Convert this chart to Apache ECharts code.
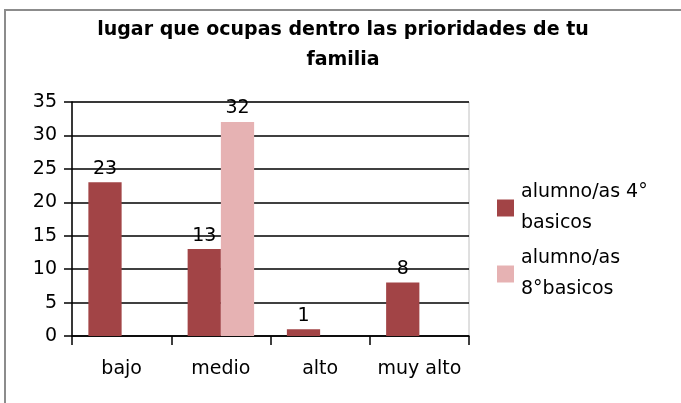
<!DOCTYPE html>
<html><head><meta charset="utf-8">
<script src="https://cdn.jsdelivr.net/npm/echarts@6/dist/echarts.min.js"></script>
<style>html,body{margin:0;padding:0;background:#fff}#c{width:681px;height:403px}</style>
</head><body><div id="c"></div>
<script>
const categories = ['bajo', 'medio', 'alto', 'muy alto'];
const series4 = [23, 13, 1, 8];
const series8 = [null, 32, null, null];
const seriesNames = ['alumno/as 4°\nbasicos', 'alumno/as\n8°basicos'];
const titleText = 'lugar que ocupas dentro las prioridades de tu\nfamilia';

const FONT = 'DejaVu Sans';
const chart = echarts.init(document.getElementById('c'), null, {renderer: 'canvas'});
chart.setOption({
  animation: false,
  backgroundColor: '#fff',
  textStyle: {fontFamily: FONT},
  title: {
    text: titleText, left: 343, top: 15, textAlign: 'center', padding: 0,
    textStyle: {fontFamily: FONT, fontSize: 19, fontWeight: 'bold', color: '#000', lineHeight: 30}
  },
  graphic: [{
    type: 'rect', shape: {x: 5, y: 10, width: 700, height: 420},
    style: {fill: 'none', stroke: '#8c8c8c', lineWidth: 2}, silent: true, z: 100
  }],
  legend: {
    orient: 'vertical', left: 497, top: 177, itemGap: 4, padding: 0,
    itemWidth: 17, itemHeight: 17, icon: 'rect',
    textStyle: {fontFamily: FONT, fontSize: 19, color: '#000', lineHeight: 31, padding: [0, 0, 0, 2]},
    data: seriesNames
  },
  grid: {left: 72, right: 212, top: 102, bottom: 67, show: true, borderColor: '#c0c0c0', borderWidth: 1},
  xAxis: {
    type: 'category', data: categories,
    axisLine: {lineStyle: {color: '#000', width: 1.5}},
    axisTick: {show: true, length: 9, lineStyle: {color: '#000', width: 1.5}},
    axisLabel: {fontFamily: FONT, fontSize: 19, color: '#000', margin: 24, interval: 0}
  },
  yAxis: {
    type: 'value', min: 0, max: 35, interval: 5,
    axisLine: {show: true, lineStyle: {color: '#000', width: 1.5}},
    axisTick: {show: true, length: 8, lineStyle: {color: '#000', width: 1.5}},
    splitLine: {lineStyle: {color: '#000', width: 1.5}},
    axisLabel: {fontFamily: FONT, fontSize: 19, color: '#000', margin: 15}
  },
  series: [
    {name: seriesNames[0], type: 'bar', data: series4, barGap: '0%', barCategoryGap: '33%',
     itemStyle: {color: '#A24446'},
     label: {show: true, position: 'top', distance: 4, fontFamily: FONT, fontSize: 19, color: '#000'}},
    {name: seriesNames[1], type: 'bar', data: series8, barGap: '0%', barCategoryGap: '33%',
     itemStyle: {color: '#E6B2B3'},
     label: {show: true, position: 'top', distance: 4, fontFamily: FONT, fontSize: 19, color: '#000'}}
  ]
});
</script></body></html>
